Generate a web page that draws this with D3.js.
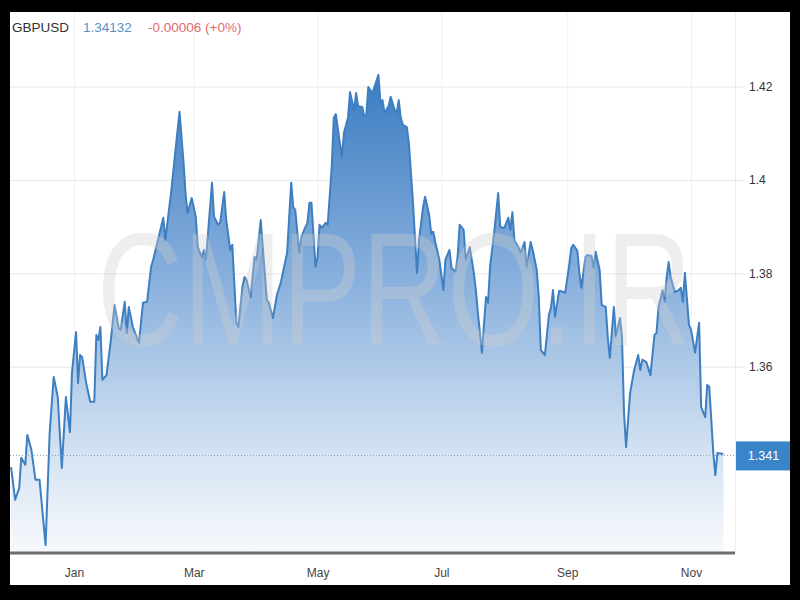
<!DOCTYPE html>
<html>
<head>
<meta charset="utf-8">
<script src="https://cdn.jsdelivr.net/npm/d3@7"></script>
<style>
  html, body { margin: 0; padding: 0; background: #000; }
  svg { display: block; }
  text { font-family: "Liberation Sans", Arial, sans-serif; }
</style>
</head>
<body>
<svg id="chart" width="800" height="600"></svg>
<script>
// ---------------- data ----------------
const symbol = "GBPUSD";
const lastPrice = "1.34132";
const change = "-0.00006 (+0%)";
const currentValue = 1.341;
const currentLabel = "1.341";

const dates = [
 "2020-12-01","2020-12-03","2020-12-05","2020-12-06","2020-12-08","2020-12-09","2020-12-11","2020-12-13","2020-12-15","2020-12-18",
 "2020-12-20","2020-12-22","2020-12-24","2020-12-26","2020-12-28","2020-12-30","2020-12-31","2021-01-02","2021-01-03","2021-01-04",
 "2021-01-05","2021-01-07","2021-01-09","2021-01-11","2021-01-12","2021-01-13","2021-01-14","2021-01-15","2021-01-17","2021-01-19",
 "2021-01-21","2021-01-23","2021-01-24","2021-01-26","2021-01-27","2021-01-28","2021-01-30","2021-02-02","2021-02-04","2021-02-06",
 "2021-02-08","2021-02-09","2021-02-11","2021-02-14","2021-02-15","2021-02-18","2021-02-20","2021-02-22","2021-02-24","2021-02-25",
 "2021-02-26","2021-02-28","2021-03-02","2021-03-03","2021-03-05","2021-03-06","2021-03-07","2021-03-10","2021-03-11","2021-03-13",
 "2021-03-14","2021-03-16","2021-03-17","2021-03-19","2021-03-20","2021-03-22","2021-03-23","2021-03-25","2021-03-26","2021-03-27",
 "2021-03-29","2021-03-31","2021-04-01","2021-04-03","2021-04-06","2021-04-07","2021-04-09","2021-04-11","2021-04-13","2021-04-16",
 "2021-04-18","2021-04-19","2021-04-20","2021-04-22","2021-04-23","2021-04-25","2021-04-26","2021-04-27","2021-04-28","2021-04-30",
 "2021-05-01","2021-05-02","2021-05-03","2021-05-05","2021-05-06","2021-05-08","2021-05-09","2021-05-10","2021-05-12","2021-05-13",
 "2021-05-14","2021-05-16","2021-05-17","2021-05-19","2021-05-20","2021-05-21","2021-05-23","2021-05-24","2021-05-25","2021-05-26",
 "2021-05-28","2021-05-29","2021-05-31","2021-06-01","2021-06-02","2021-06-03","2021-06-05","2021-06-06","2021-06-08","2021-06-09",
 "2021-06-10","2021-06-11","2021-06-12","2021-06-14","2021-06-15","2021-06-17","2021-06-19","2021-06-20","2021-06-22","2021-06-23",
 "2021-06-25","2021-06-26","2021-06-27","2021-06-28","2021-06-30","2021-07-02","2021-07-03","2021-07-05","2021-07-06","2021-07-08",
 "2021-07-09","2021-07-10","2021-07-12","2021-07-13","2021-07-15","2021-07-17","2021-07-18","2021-07-19","2021-07-21","2021-07-23",
 "2021-07-24","2021-07-25","2021-07-27","2021-07-29","2021-07-30","2021-08-01","2021-08-03","2021-08-04","2021-08-05","2021-08-06",
 "2021-08-08","2021-08-09","2021-08-11","2021-08-12","2021-08-14","2021-08-15","2021-08-17","2021-08-18","2021-08-19","2021-08-21",
 "2021-08-23","2021-08-24","2021-08-25","2021-08-26","2021-08-28","2021-08-29","2021-08-31","2021-09-02","2021-09-03","2021-09-04",
 "2021-09-06","2021-09-07","2021-09-08","2021-09-10","2021-09-11","2021-09-13","2021-09-14","2021-09-15","2021-09-17","2021-09-18",
 "2021-09-20","2021-09-21","2021-09-22","2021-09-24","2021-09-25","2021-09-27","2021-09-28","2021-09-29","2021-09-30","2021-10-02",
 "2021-10-04","2021-10-06","2021-10-07","2021-10-08","2021-10-10","2021-10-12","2021-10-14","2021-10-15","2021-10-16","2021-10-18",
 "2021-10-19","2021-10-20","2021-10-21","2021-10-22","2021-10-24","2021-10-26","2021-10-27","2021-10-28","2021-10-29","2021-10-31",
 "2021-11-01","2021-11-03","2021-11-05","2021-11-06","2021-11-08","2021-11-09","2021-11-10","2021-11-12","2021-11-13","2021-11-14",
 "2021-11-17"
];
const closes = [
 1.3385,1.3315,1.3340,1.3405,1.3390,1.3454,1.3422,1.3358,1.3358,1.3218,
 1.3458,1.3578,1.3535,1.3383,1.3535,1.3460,1.3587,1.3674,1.3565,1.3625,
 1.3621,1.3565,1.3525,1.3525,1.3668,1.3657,1.3685,1.3572,1.3582,1.3651,
 1.3732,1.3683,1.3679,1.3739,1.3672,1.3728,1.3685,1.3651,1.3737,1.3739,
 1.3814,1.3829,1.3865,1.3919,1.3871,1.3979,1.4064,1.4146,1.4036,1.3968,
 1.3929,1.3961,1.3921,1.3856,1.3835,1.3850,1.3829,1.3994,1.3921,1.3904,
 1.3908,1.3974,1.3914,1.3850,1.3861,1.3694,1.3685,1.3771,1.3792,1.3786,
 1.3749,1.3835,1.3829,1.3914,1.3743,1.3737,1.3704,1.3754,1.3782,1.3844,
 1.3994,1.3942,1.3936,1.3844,1.3878,1.3899,1.3908,1.3951,1.3951,1.3814,
 1.3835,1.3904,1.3897,1.3908,1.3904,1.4028,1.4133,1.4141,1.4079,1.4049,
 1.4101,1.4133,1.4188,1.4150,1.4186,1.4158,1.4156,1.4137,1.4139,1.4199,
 1.4186,1.4199,1.4225,1.4165,1.4171,1.4143,1.4158,1.4178,1.4150,1.4143,
 1.4171,1.4133,1.4118,1.4113,1.4079,1.3953,1.3801,1.3871,1.3942,1.3964,
 1.3925,1.3884,1.3889,1.3867,1.3829,1.3764,1.3829,1.3850,1.3812,1.3803,
 1.3835,1.3904,1.3893,1.3829,1.3856,1.3801,1.3764,1.3715,1.3630,1.3749,
 1.3737,1.3814,1.3886,1.3972,1.3899,1.3897,1.3919,1.3893,1.3931,1.3871,
 1.3856,1.3844,1.3867,1.3814,1.3867,1.3850,1.3807,1.3749,1.3636,1.3625,
 1.3711,1.3726,1.3764,1.3707,1.3762,1.3762,1.3758,1.3818,1.3854,1.3861,
 1.3848,1.3801,1.3769,1.3835,1.3839,1.3837,1.3812,1.3846,1.3807,1.3732,
 1.3728,1.3662,1.3619,1.3728,1.3666,1.3704,1.3664,1.3501,1.3428,1.3544,
 1.3593,1.3625,1.3593,1.3615,1.3610,1.3582,1.3668,1.3672,1.3728,1.3764,
 1.3739,1.3792,1.3824,1.3792,1.3760,1.3764,1.3769,1.3739,1.3801,1.3690,
 1.3679,1.3630,1.3694,1.3514,1.3492,1.3561,1.3557,1.3415,1.3368,1.3415,
 1.3413
];
const yTickValues = [1.36, 1.38, 1.40, 1.42];
const yTickLabels = ["1.36", "1.38", "1.4", "1.42"];
const monthTicks = ["2021-01-01","2021-03-01","2021-05-01","2021-07-01","2021-09-01","2021-11-01"];
const monthLabels = ["Jan", "Mar", "May", "Jul", "Sep", "Nov"];
const watermark = "CMPRO.IR";

// ---------------- layout ----------------
const W = 800, H = 600;
const frame = {left: 10, top: 12, right: 790, bottom: 585};
const plot = {left: 10, right: 735, top: 40, bottom: 553};

const parse = d3.timeParse("%Y-%m-%d");
const data = dates.map((d, i) => ({date: parse(d), value: closes[i]}));
const monthDates = monthTicks.map(parse);

const x = d3.scaleTime()
  .domain([monthDates[0], monthDates[monthDates.length - 1]])
  .range([74, 691]);
const y = d3.scaleLinear()
  .domain([1.36, 1.42])
  .range([366.7, 86.5]);

const svg = d3.select("#chart");
svg.append("rect").attr("width", W).attr("height", H).attr("fill", "#000");
svg.append("rect")
  .attr("x", frame.left).attr("y", frame.top)
  .attr("width", frame.right - frame.left).attr("height", frame.bottom - frame.top)
  .attr("fill", "#fff");

const defs = svg.append("defs");
const grad = defs.append("linearGradient")
  .attr("id", "fillGrad").attr("gradientUnits", "userSpaceOnUse")
  .attr("x1", 0).attr("x2", 0).attr("y1", 75).attr("y2", plot.bottom);
grad.append("stop").attr("offset", "0").attr("stop-color", "#3b7cc2");
grad.append("stop").attr("offset", "0.45").attr("stop-color", "#8db3de");
grad.append("stop").attr("offset", "0.8").attr("stop-color", "#d6e4f3");
grad.append("stop").attr("offset", "1").attr("stop-color", "#f7f9fc");

defs.append("clipPath").attr("id", "plotClip")
  .append("rect").attr("x", plot.left).attr("y", frame.top)
  .attr("width", plot.right - plot.left).attr("height", plot.bottom - frame.top);

// right axis separator
svg.append("line")
  .attr("x1", plot.right + 0.5).attr("x2", plot.right + 0.5)
  .attr("y1", frame.top).attr("y2", plot.bottom)
  .attr("stroke", "#efefef").attr("stroke-width", 1);

// vertical month grid
const xGrid = svg.append("g")
  .attr("transform", `translate(0,${plot.bottom})`)
  .call(d3.axisBottom(x).tickValues(monthDates).tickSize(-(plot.bottom - frame.top)).tickFormat(""));
xGrid.select(".domain").remove();
xGrid.selectAll(".tick text").remove();
xGrid.selectAll(".tick line").attr("stroke", "#f0f0f0");

// horizontal grid + right labels
const yAxis = svg.append("g")
  .attr("transform", `translate(745,0)`)
  .call(d3.axisRight(y).tickValues(yTickValues)
    .tickSize(-(745 - plot.left)).tickPadding(4)
    .tickFormat((d, i) => yTickLabels[i]));
yAxis.select(".domain").remove();
yAxis.selectAll(".tick line").attr("stroke", "#e8e8e8");
yAxis.selectAll(".tick text")
  .attr("fill", "#333").style("font-size", "12px")
  .style("font-family", "'Liberation Sans', Arial, sans-serif");

// area + line
const area = d3.area()
  .x(d => x(d.date)).y0(plot.bottom).y1(d => y(d.value));
const line = d3.line()
  .x(d => x(d.date)).y(d => y(d.value));

const g = svg.append("g").attr("clip-path", "url(#plotClip)");
g.append("path").datum(data).attr("d", area).attr("fill", "url(#fillGrad)");

// watermark (natural width ~595px at 119px, stretched vertically)
svg.append("text")
  .attr("transform", "translate(97,345) scale(1,1.35)")
  .style("font-size", "119px")
  .style("font-family", "'Liberation Sans', Arial, sans-serif")
  .attr("fill", "#cfcfcf").attr("fill-opacity", 0.35)
  .text(watermark);

g.append("path").datum(data).attr("d", line)
  .attr("fill", "none").attr("stroke", "#3d7fc1").attr("stroke-width", 2)
  .attr("stroke-linejoin", "round");

// current price dotted line
svg.append("line")
  .attr("x1", plot.left).attr("x2", plot.right)
  .attr("y1", Math.round(y(currentValue)) + 0.5).attr("y2", Math.round(y(currentValue)) + 0.5)
  .attr("stroke", "#8ea3b8").attr("stroke-width", 1).attr("stroke-dasharray", "1,2");

// current price label
svg.append("rect")
  .attr("x", plot.right + 1).attr("y", y(currentValue) - 14)
  .attr("width", frame.right - plot.right - 1).attr("height", 29)
  .attr("fill", "#3a84c9");
svg.append("text")
  .attr("x", (plot.right + frame.right) / 2 + 1).attr("y", y(currentValue) + 4.5)
  .attr("text-anchor", "middle").attr("fill", "#fff")
  .style("font-size", "12.5px")
  .text(currentLabel);

// bottom axis
const xAxis = svg.append("g")
  .attr("transform", `translate(0,${plot.bottom})`)
  .call(d3.axisBottom(x).tickValues(monthDates).tickSize(0).tickPadding(15)
    .tickFormat((d, i) => monthLabels[i]));
xAxis.select(".domain").remove();
xAxis.selectAll(".tick text")
  .attr("fill", "#444").style("font-size", "12px")
  .style("font-family", "'Liberation Sans', Arial, sans-serif");
svg.append("line")
  .attr("x1", plot.left).attr("x2", plot.right)
  .attr("y1", plot.bottom).attr("y2", plot.bottom)
  .attr("stroke", "#6e6e6e").attr("stroke-width", 3);

// header
const header = svg.append("text").attr("x", 12).attr("y", 32).style("font-size", "13.5px");
header.append("tspan").attr("fill", "#333").text(symbol);
header.append("tspan").attr("x", 83).attr("fill", "#5a8fc6").text(lastPrice);
header.append("tspan").attr("x", 148).attr("fill", "#e06a6a").text(change);
</script>
</body>
</html>
